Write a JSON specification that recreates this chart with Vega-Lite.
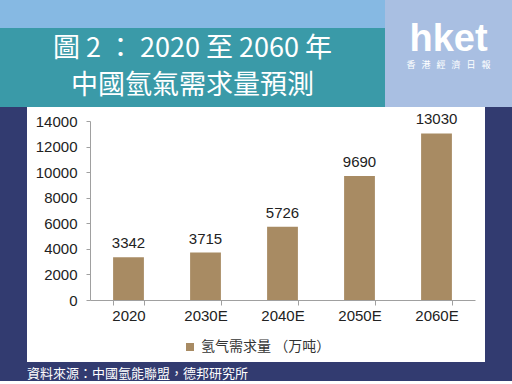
{
  "$schema": "https://vega.github.io/schema/vega-lite/v6.json",
  "background": "#323b70",
  "padding": 0,
  "spacing": 0,
  "center": true,
  "resolve": {"scale": {"color": "independent"}, "legend": {"color": "independent"}},
  "config": {"view": {"stroke": null}},
  "vconcat": [
    {
      "spacing": 0,
      "hconcat": [
        {
          "spacing": 0,
          "vconcat": [
            {
              "width": 385,
              "height": 28,
              "view": {"fill": "#86b9e3", "stroke": null},
              "data": {"values": [{"t": ""}]},
              "mark": {"type": "text"},
              "encoding": {"text": {"field": "t"}}
            },
            {
              "width": 385,
              "height": 79,
              "view": {"fill": "#3a9aa8", "stroke": null},
              "data": {"values": [
                {"line": "圖 2 ： 2020 至 2060 年", "i": 1},
                {"line": "中國氫氣需求量預測", "i": 2}
              ]},
              "mark": {"type": "text", "color": "white", "font": "Noto Sans CJK TC", "fontSize": 27, "baseline": "middle", "align": "center"},
              "encoding": {
                "y": {"field": "i", "type": "ordinal", "axis": null, "scale": {"type": "point", "padding": 0.58}},
                "text": {"field": "line"}
              }
            }
          ]
        },
        {
          "width": 127,
          "height": 107,
          "view": {"fill": "#a9bfe2", "stroke": null},
          "layer": [
            {
              "data": {"values": [{"t": "hket"}]},
              "mark": {"type": "text", "color": "white", "font": "Liberation Sans", "fontWeight": "bold", "fontSize": 38, "baseline": "alphabetic", "align": "center", "dy": -3},
              "encoding": {"text": {"field": "t"}}
            },
            {
              "data": {"values": [{"t": "香\u2002\u2006港\u2002\u2006經\u2002\u2006濟\u2002\u2006日\u2002\u2006報"}]},
              "mark": {"type": "text", "color": "white", "font": "Noto Sans CJK TC", "fontSize": 9, "baseline": "alphabetic", "align": "center", "dy": 14},
              "encoding": {"text": {"field": "t"}}
            }
          ]
        }
      ]
    },
    {
      "width": 458,
      "height": 255,
      "view": {"fill": "white", "stroke": null},
      "title": {
        "text": "資料來源：中國氫能聯盟，德邦研究所",
        "orient": "bottom",
        "anchor": "start",
        "baseline": "top",
        "color": "white",
        "font": "Noto Sans CJK TC",
        "fontSize": 13,
        "fontWeight": "normal",
        "offset": 6
      },
      "data": {"values": [
        {"year": "2020", "value": 3342, "series": "氢气需求量 （万吨）"},
        {"year": "2030E", "value": 3715, "series": "氢气需求量 （万吨）"},
        {"year": "2040E", "value": 5726, "series": "氢气需求量 （万吨）"},
        {"year": "2050E", "value": 9690, "series": "氢气需求量 （万吨）"},
        {"year": "2060E", "value": 13030, "series": "氢气需求量 （万吨）"}
      ]},
      "encoding": {
        "x": {
          "field": "year", "type": "nominal", "sort": null,
          "scale": {"range": [63, 448], "paddingInner": 0.6, "paddingOuter": 0.3},
          "axis": {
            "title": null, "offset": -62, "labelAngle": 0, "tickBand": "extent",
            "tickSize": 5, "labelPadding": 3, "domainColor": "#a0a0a0", "tickColor": "#a0a0a0",
            "labelFont": "Liberation Sans", "labelFontSize": 15, "labelColor": "#222222"
          }
        },
        "y": {
          "field": "value", "type": "quantitative",
          "scale": {"domain": [0, 14000], "range": [193, 14], "nice": false},
          "axis": {
            "title": null, "offset": -63, "grid": false, "format": "d",
            "values": [0, 2000, 4000, 6000, 8000, 10000, 12000, 14000],
            "tickSize": 4, "labelPadding": 9, "domainColor": "#a0a0a0", "tickColor": "#a0a0a0",
            "labelFont": "Liberation Sans", "labelFontSize": 15, "labelColor": "#222222"
          }
        }
      },
      "layer": [
        {
          "mark": {"type": "bar"},
          "encoding": {
            "color": {
              "field": "series", "type": "nominal",
              "scale": {"range": ["#a88b63"]},
              "legend": {
                "title": null, "orient": "none", "legendX": 156, "legendY": 233,
                "symbolType": "square", "symbolSize": 64, "symbolStrokeWidth": 0,
                "labelFont": "Noto Sans CJK SC", "labelFontSize": 14, "labelColor": "#333333"
              }
            }
          }
        },
        {
          "mark": {"type": "text", "baseline": "alphabetic", "dy": -9, "font": "Liberation Sans", "fontSize": 15, "color": "#222222"},
          "encoding": {"text": {"field": "value", "type": "quantitative", "format": "d"}}
        }
      ]
    }
  ]
}
